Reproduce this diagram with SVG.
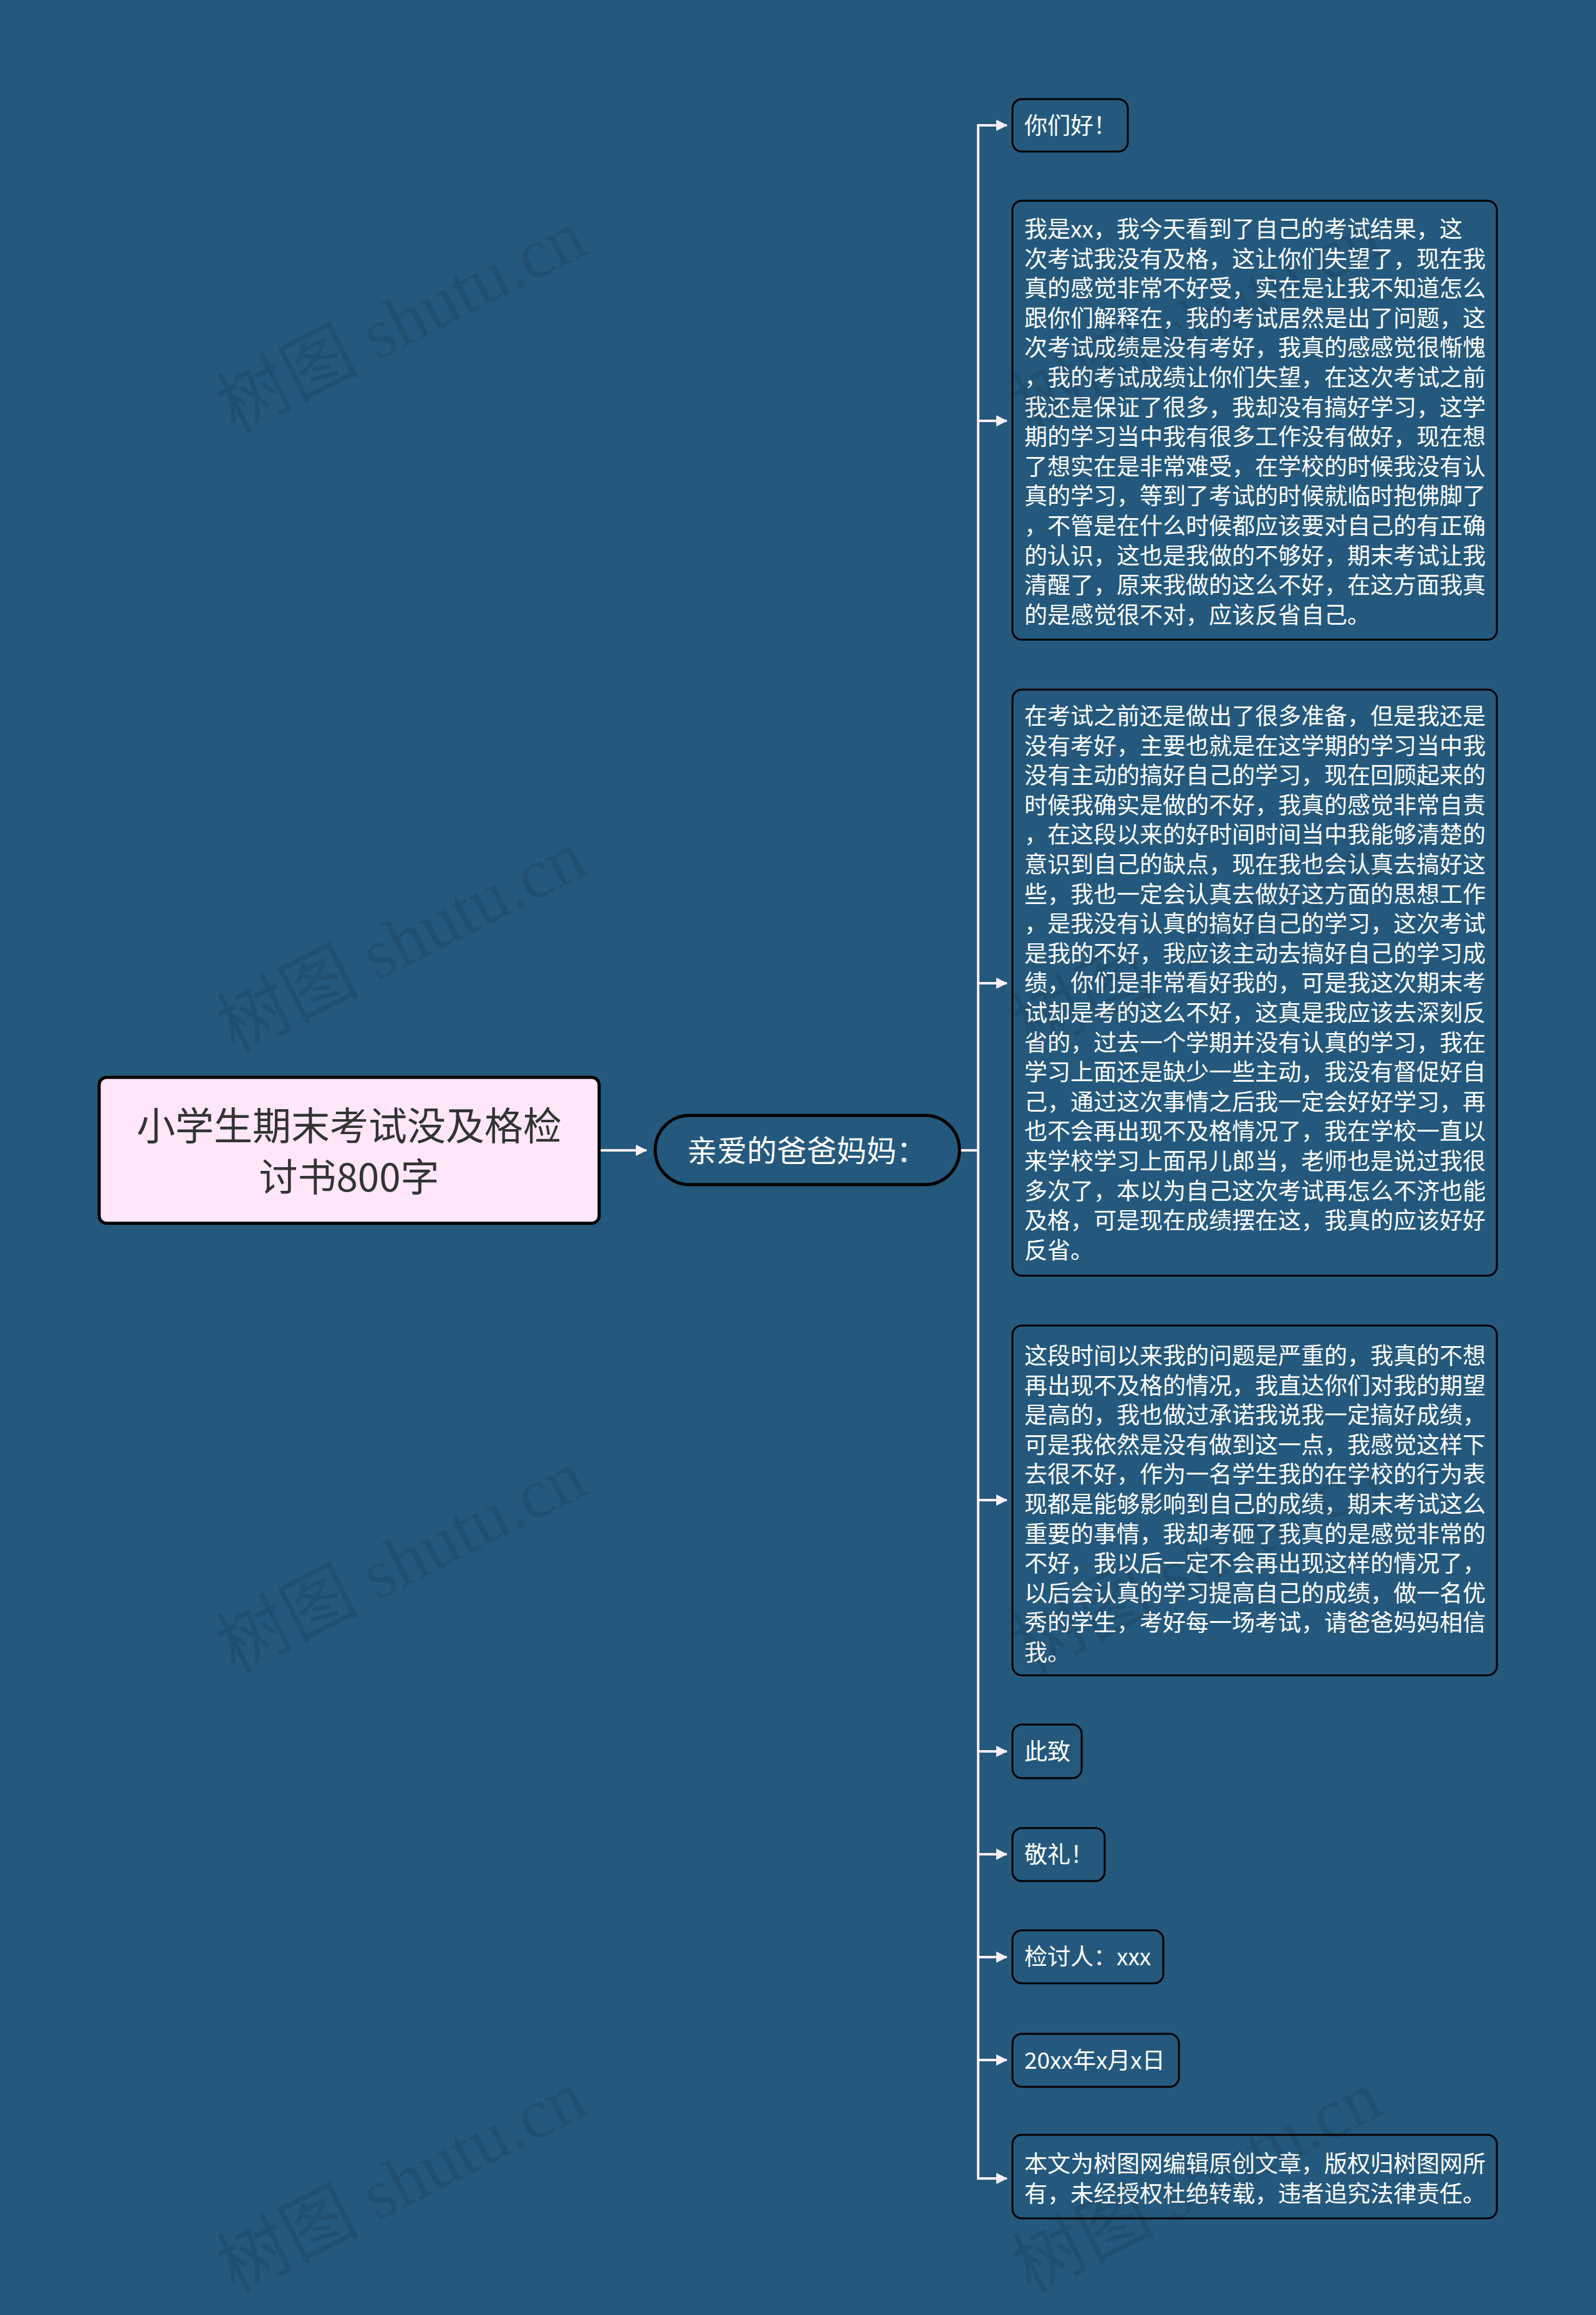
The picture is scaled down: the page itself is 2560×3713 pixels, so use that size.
<svg xmlns="http://www.w3.org/2000/svg" width="2560" height="3713" viewBox="0 0 2560 3713">
<defs>
<style>
.bg{fill:#24597D}
.root{fill:#FFE6FA;stroke:#000;stroke-width:5}
.pill{fill:#24597D;stroke:#000;stroke-width:5}
.box{fill:#24597D;stroke:#000;stroke-width:3}
.t{font-family:"Noto Sans CJK SC","Noto Sans",sans-serif;fill:#FFFFFF;font-size:37px}
.rt{font-family:"Noto Sans CJK SC","Noto Sans",sans-serif;fill:#333333;font-size:62px}
.pt{font-family:"Noto Sans CJK SC","Noto Sans",sans-serif;fill:#FFFFFF;font-size:48px}
.ln{fill:none;stroke:#FCEFFA;stroke-width:4}
.wm{font-family:"Liberation Serif","DejaVu Serif","Noto Sans CJK SC",serif;font-size:114px;fill:#000;fill-opacity:0.1}
</style>
<marker id="ah" viewBox="0 0 18 18" refX="17" refY="9" markerWidth="18" markerHeight="18" markerUnits="userSpaceOnUse" orient="auto">
<path d="M0,0 L18,9 L0,18 Z" fill="#FCEFFA"/>
</marker>
</defs>
<rect class="bg" x="0" y="0" width="2560" height="3713"/>

<g id="connectors">
<path class="ln" d="M961,1845 H1037" marker-end="url(#ah)"/>
<path class="ln" d="M1539,1845 H1569 V201 H1615" marker-end="url(#ah)"/>
<path class="ln" d="M1569,675 H1615" marker-end="url(#ah)"/>
<path class="ln" d="M1569,1577 H1615" marker-end="url(#ah)"/>
<path class="ln" d="M1569,2406 H1615" marker-end="url(#ah)"/>
<path class="ln" d="M1569,2809 H1615" marker-end="url(#ah)"/>
<path class="ln" d="M1569,2974 H1615" marker-end="url(#ah)"/>
<path class="ln" d="M1569,3139 H1615" marker-end="url(#ah)"/>
<path class="ln" d="M1569,3304 H1615" marker-end="url(#ah)"/>
<path class="ln" d="M1539,1845 H1569 V3494 H1615" marker-end="url(#ah)"/>
</g>

<g id="root">
<rect class="root" x="159" y="1728" width="802" height="234" rx="12"/>
<text class="rt" text-anchor="middle" x="560" y="1829">小学生期末考试没及格检</text>
<text class="rt" text-anchor="middle" x="560" y="1911">讨书800字</text>
</g>

<g id="n-parents">
<rect class="pill" x="1051" y="1789" width="488" height="111" rx="55"/>
<text class="pt" x="1102" y="1863">亲爱的爸爸妈妈：</text>
</g>

<g id="c1">
<rect class="box" x="1624" y="159" width="185" height="84" rx="15"/>
<text class="t" x="1643" y="215">你们好！</text>
</g>

<g id="c2">
<rect class="box" x="1624" y="322" width="777" height="704" rx="15"/>
<text class="t">
<tspan x="1643" y="381">我是xx，我今天看到了自己的考试结果，这</tspan>
<tspan x="1643" y="428.6">次考试我没有及格，这让你们失望了，现在我</tspan>
<tspan x="1643" y="476.2">真的感觉非常不好受，实在是让我不知道怎么</tspan>
<tspan x="1643" y="523.8">跟你们解释在，我的考试居然是出了问题，这</tspan>
<tspan x="1643" y="571.4">次考试成绩是没有考好，我真的感感觉很惭愧</tspan>
<tspan x="1643" y="619">，我的考试成绩让你们失望，在这次考试之前</tspan>
<tspan x="1643" y="666.6">我还是保证了很多，我却没有搞好学习，这学</tspan>
<tspan x="1643" y="714.2">期的学习当中我有很多工作没有做好，现在想</tspan>
<tspan x="1643" y="761.8">了想实在是非常难受，在学校的时候我没有认</tspan>
<tspan x="1643" y="809.4">真的学习，等到了考试的时候就临时抱佛脚了</tspan>
<tspan x="1643" y="857">，不管是在什么时候都应该要对自己的有正确</tspan>
<tspan x="1643" y="904.6">的认识，这也是我做的不够好，期末考试让我</tspan>
<tspan x="1643" y="952.2">清醒了，原来我做的这么不好，在这方面我真</tspan>
<tspan x="1643" y="999.8">的是感觉很不对，应该反省自己。</tspan>
</text>
</g>

<g id="c3">
<rect class="box" x="1624" y="1106" width="777" height="940" rx="15"/>
<text class="t">
<tspan x="1643" y="1162">在考试之前还是做出了很多准备，但是我还是</tspan>
<tspan x="1643" y="1209.6">没有考好，主要也就是在这学期的学习当中我</tspan>
<tspan x="1643" y="1257.2">没有主动的搞好自己的学习，现在回顾起来的</tspan>
<tspan x="1643" y="1304.8">时候我确实是做的不好，我真的感觉非常自责</tspan>
<tspan x="1643" y="1352.4">，在这段以来的好时间时间当中我能够清楚的</tspan>
<tspan x="1643" y="1400">意识到自己的缺点，现在我也会认真去搞好这</tspan>
<tspan x="1643" y="1447.6">些，我也一定会认真去做好这方面的思想工作</tspan>
<tspan x="1643" y="1495.2">，是我没有认真的搞好自己的学习，这次考试</tspan>
<tspan x="1643" y="1542.8">是我的不好，我应该主动去搞好自己的学习成</tspan>
<tspan x="1643" y="1590.4">绩，你们是非常看好我的，可是我这次期末考</tspan>
<tspan x="1643" y="1638">试却是考的这么不好，这真是我应该去深刻反</tspan>
<tspan x="1643" y="1685.6">省的，过去一个学期并没有认真的学习，我在</tspan>
<tspan x="1643" y="1733.2">学习上面还是缺少一些主动，我没有督促好自</tspan>
<tspan x="1643" y="1780.8">己，通过这次事情之后我一定会好好学习，再</tspan>
<tspan x="1643" y="1828.4">也不会再出现不及格情况了，我在学校一直以</tspan>
<tspan x="1643" y="1876">来学校学习上面吊儿郎当，老师也是说过我很</tspan>
<tspan x="1643" y="1923.6">多次了，本以为自己这次考试再怎么不济也能</tspan>
<tspan x="1643" y="1971.2">及格，可是现在成绩摆在这，我真的应该好好</tspan>
<tspan x="1643" y="2018.8">反省。</tspan>
</text>
</g>

<g id="c4">
<rect class="box" x="1624" y="2126" width="777" height="561" rx="15"/>
<text class="t">
<tspan x="1643" y="2188">这段时间以来我的问题是严重的，我真的不想</tspan>
<tspan x="1643" y="2235.6">再出现不及格的情况，我直达你们对我的期望</tspan>
<tspan x="1643" y="2283.2">是高的，我也做过承诺我说我一定搞好成绩，</tspan>
<tspan x="1643" y="2330.8">可是我依然是没有做到这一点，我感觉这样下</tspan>
<tspan x="1643" y="2378.4">去很不好，作为一名学生我的在学校的行为表</tspan>
<tspan x="1643" y="2426">现都是能够影响到自己的成绩，期末考试这么</tspan>
<tspan x="1643" y="2473.6">重要的事情，我却考砸了我真的是感觉非常的</tspan>
<tspan x="1643" y="2521.2">不好，我以后一定不会再出现这样的情况了，</tspan>
<tspan x="1643" y="2568.8">以后会认真的学习提高自己的成绩，做一名优</tspan>
<tspan x="1643" y="2616.4">秀的学生，考好每一场考试，请爸爸妈妈相信</tspan>
<tspan x="1643" y="2664">我。</tspan>
</text>
</g>

<g id="c5">
<rect class="box" x="1624" y="2766" width="111" height="86" rx="15"/>
<text class="t" x="1643" y="2823">此致</text>
</g>

<g id="c6">
<rect class="box" x="1624" y="2932" width="148" height="85" rx="15"/>
<text class="t" x="1643" y="2988">敬礼！</text>
</g>

<g id="c7">
<rect class="box" x="1624" y="3096" width="242" height="85" rx="15"/>
<text class="t" x="1643" y="3152">检讨人：xxx</text>
</g>

<g id="c8">
<rect class="box" x="1624" y="3262" width="267" height="85" rx="15"/>
<text class="t" x="1643" y="3318">20xx年x月x日</text>
</g>

<g id="c9">
<rect class="box" x="1624" y="3424" width="777" height="134" rx="15"/>
<text class="t"><tspan x="1643" y="3484">本文为树图网编辑原创文章，版权归树图网所</tspan><tspan x="1643" y="3532">有，未经授权杜绝转载，违者追究法律责任。</tspan></text>
</g>

<g id="watermarks">
<text class="wm" text-anchor="middle" x="644" y="554" transform="rotate(-27 644 516)">树图 shutu.cn</text>
<text class="wm" text-anchor="middle" x="644" y="1549" transform="rotate(-27 644 1511)">树图 shutu.cn</text>
<text class="wm" text-anchor="middle" x="644" y="2543" transform="rotate(-27 644 2505)">树图 shutu.cn</text>
<text class="wm" text-anchor="middle" x="644" y="3538" transform="rotate(-27 644 3500)">树图 shutu.cn</text>
<text class="wm" text-anchor="middle" x="1920" y="554" transform="rotate(-27 1920 516)">树图 shutu.cn</text>
<text class="wm" text-anchor="middle" x="1920" y="1549" transform="rotate(-27 1920 1511)">树图 shutu.cn</text>
<text class="wm" text-anchor="middle" x="1920" y="2543" transform="rotate(-27 1920 2505)">树图 shutu.cn</text>
<text class="wm" text-anchor="middle" x="1920" y="3538" transform="rotate(-27 1920 3500)">树图 shutu.cn</text>
</g>
</svg>
